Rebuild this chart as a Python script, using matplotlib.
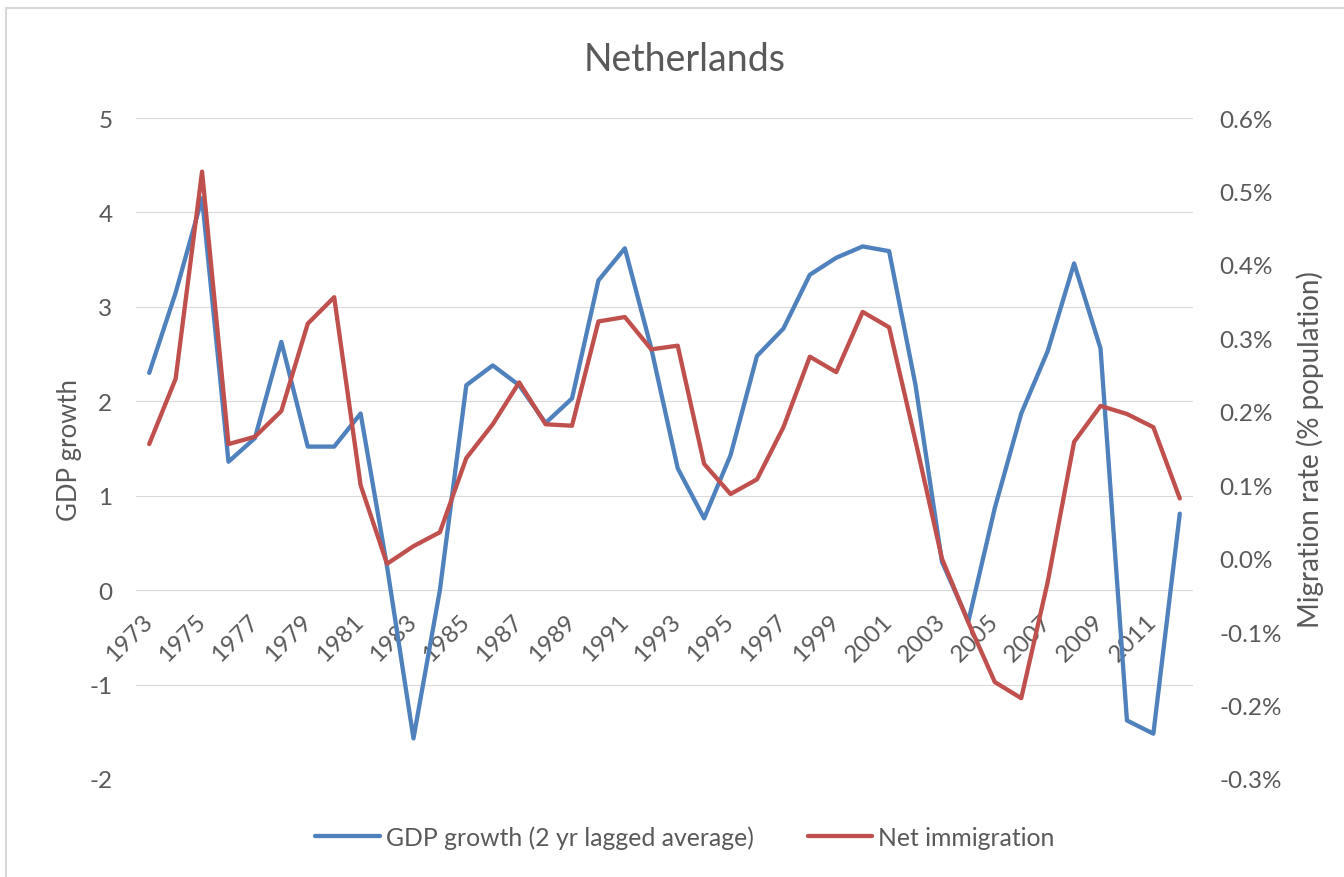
import numpy as np
import matplotlib.pyplot as plt
from matplotlib.lines import Line2D
from matplotlib.ticker import FuncFormatter

plt.rcParams['font.family'] = ['Lato', 'DejaVu Sans']
plt.rcParams['axes.unicode_minus'] = False

years = list(range(1973, 2013))

# GDP growth, 2 yr lagged average (left axis)
gdp = [2.30, 3.15, 4.15, 1.36, 1.61, 2.63, 1.52, 1.52, 1.87, 0.25,
       -1.57, 0.00, 2.17, 2.38, 2.17, 1.77, 2.03, 3.28, 3.62, 2.56,
       1.29, 0.76, 1.43, 2.48, 2.77, 3.34, 3.52, 3.64, 3.59, 2.17,
       0.30, -0.33, 0.87, 1.87, 2.53, 3.46, 2.56, -1.38, -1.52, 0.81]

# net immigration, % of population (right axis)
migration = [0.156, 0.245, 0.527, 0.156, 0.166, 0.201, 0.320, 0.356, 0.100, -0.007,
             0.017, 0.036, 0.137, 0.183, 0.240, 0.183, 0.181, 0.323, 0.329, 0.285,
             0.290, 0.129, 0.088, 0.108, 0.179, 0.275, 0.254, 0.336, 0.315, 0.160,
             0.000, -0.087, -0.168, -0.190, -0.032, 0.159, 0.208, 0.197, 0.179, 0.082]

blue = '#4F81BD'
red = '#C0504D'
grey = '#595959'
tick_size = 17.5

fig = plt.figure(figsize=(13.44, 8.78), dpi=100)
ax = fig.add_axes([136 / 1344, 1 - 780 / 878, (1193 - 136) / 1344, (780 - 119) / 878])
ax2 = ax.twinx()

x = np.arange(len(years))
ax.plot(x, gdp, color=blue, lw=3.1, solid_joinstyle='round', solid_capstyle='round')
ax2.plot(x, migration, color=red, lw=3.1, solid_joinstyle='round', solid_capstyle='round')

ax.set_xlim(-0.5, len(years) - 0.5)
ax.set_ylim(-2, 5)
ax.set_yticks(range(-2, 6))
ax2.set_ylim(-0.3, 0.6)
ax2.set_yticks(np.arange(-0.3, 0.61, 0.1))
ax2.yaxis.set_major_formatter(FuncFormatter(lambda v, p: f'{v:.1f}%'))

ax.grid(axis='y', color='#D9D9D9', lw=0.8)
ax.set_axisbelow(True)
for a in (ax, ax2):
    for s in a.spines.values():
        s.set_visible(False)

ax.spines['bottom'].set_position(('data', 0))
ax.set_xticks(x[::2])
ax.set_xticklabels([str(y) for y in years[::2]])
ax.tick_params(axis='x', length=0, pad=20, labelsize=tick_size, labelcolor=grey)
plt.setp(ax.get_xticklabels(), rotation=45, ha='right', va='center', rotation_mode='anchor')
ax.tick_params(axis='y', length=0, pad=17, labelsize=tick_size, labelcolor=grey)
ax2.tick_params(axis='y', length=0, pad=19, labelsize=tick_size, labelcolor=grey)

fig.text(685 / 1344, 1 - 60 / 878, 'Netherlands', ha='center', va='center', fontsize=27, color=grey)
fig.text(69 / 1344, 1 - 450 / 878, 'GDP growth', rotation=90, ha='center', va='center',
         fontsize=18.5, color=grey)
fig.text(1310 / 1344, 1 - 450 / 878, 'Migration rate (% population)', rotation=90,
         ha='center', va='center', fontsize=20, color=grey)

handles = [Line2D([], [], color=blue, lw=3.1, solid_capstyle='round'),
           Line2D([], [], color=red, lw=3.1, solid_capstyle='round')]
fig.legend(handles, ['GDP growth (2 yr lagged average)', 'Net immigration'],
           loc='center', bbox_to_anchor=(685 / 1344, 1 - 838 / 878), ncol=2, frameon=False,
           fontsize=17.8, labelcolor=grey, handlelength=2.6, handletextpad=0.25,
           columnspacing=2.2)

# light frame on the left and top edges of the chart area
fig.add_artist(Line2D([6 / 1344, 6 / 1344], [0, 1 - 9 / 878], color='#D9D9D9', lw=1.5,
                      transform=fig.transFigure))
fig.add_artist(Line2D([6 / 1344, 1], [1 - 9 / 878, 1 - 9 / 878], color='#D9D9D9', lw=1.5,
                      transform=fig.transFigure))

fig.savefig('out.png', dpi=100)
